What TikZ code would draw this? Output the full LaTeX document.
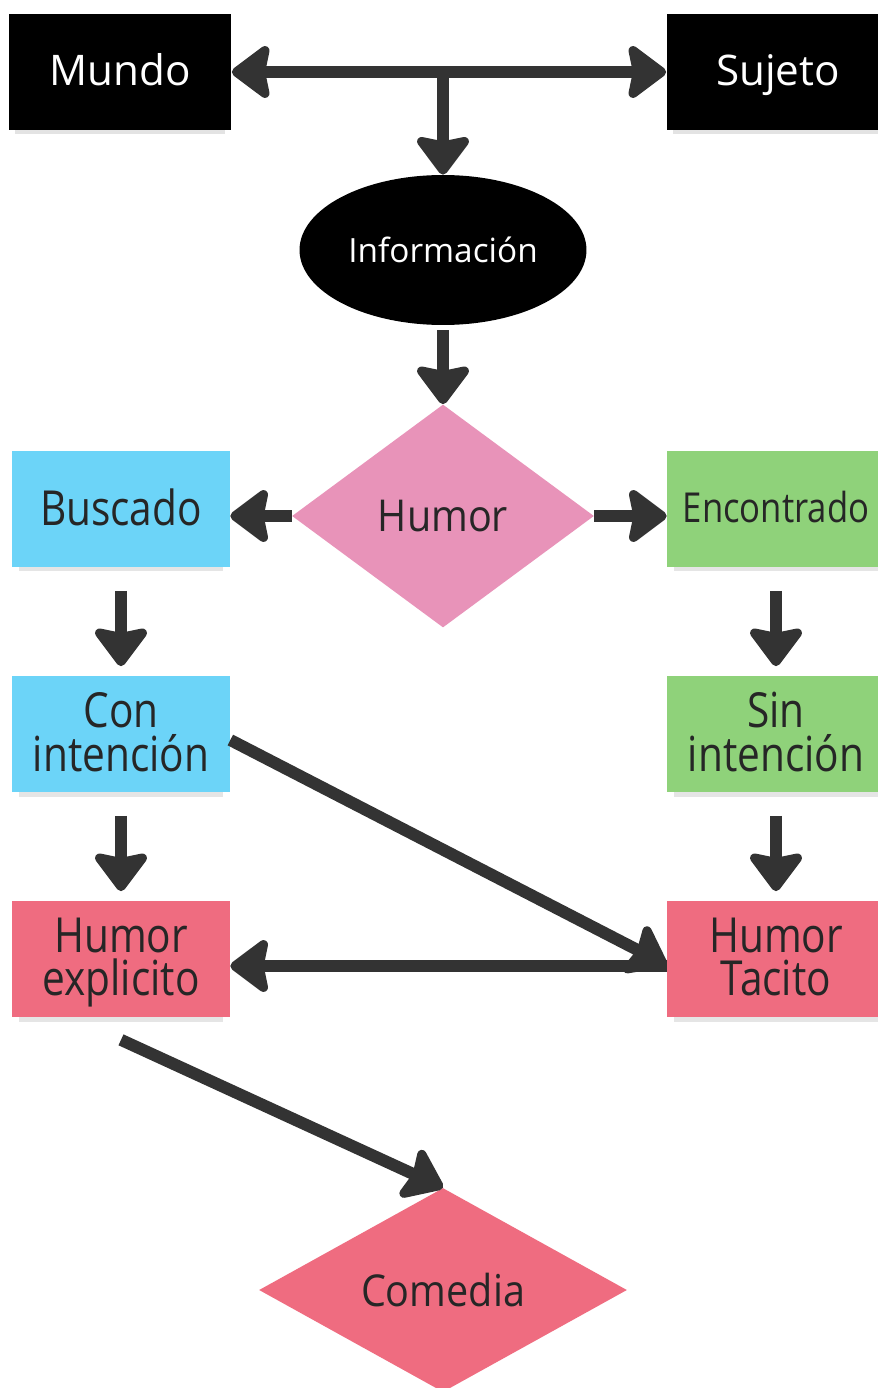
\documentclass[tikz,border=0pt]{standalone}
\usepackage{fontspec}
\setmainfont{Open Sans}
\newfontfamily\notefont{Open Sans}[FakeStretch=0.84]
\newfontfamily\choicefont{Open Sans}[FakeStretch=0.9]
\usetikzlibrary{shapes.geometric, arrows.meta, shadows, calc}

\definecolor{arrowgray}{HTML}{333333}
\definecolor{notecyan}{HTML}{6CD4F8}
\definecolor{notegreen}{HTML}{8FD27A}
\definecolor{notered}{HTML}{EF6C80}
\definecolor{humorpink}{HTML}{E893B9}

\begin{document}
\begin{tikzpicture}[
    x=0.02cm, y=-0.02cm,
    >={Stealth[length=0.85cm, width=1.25cm, inset=0.12cm, round]},
    flow/.style={
        ->,
        line width=0.24cm,
        draw=arrowgray
    },
    dark/.style={
        rectangle,
        fill=black,
        text=white,
        font=\fontsize{24}{27}\selectfont,
        text depth=0.25em,
        minimum width=4.46cm,
        minimum height=2.32cm,
        drop shadow={shadow xshift=0cm, shadow yshift=-0.16cm, shadow scale=0.94, opacity=0.22}
    },
    note/.style={
        rectangle,
        minimum width=4.36cm,
        minimum height=2.34cm,
        align=center,
        text=black!85,
        font=\notefont\fontsize{27.5}{25}\selectfont,
        text depth=0.26em,
        drop shadow={shadow xshift=0cm, shadow yshift=-0.16cm, shadow scale=0.94, opacity=0.2}
    },
    choice/.style={
        diamond,
        inner sep=0pt,
        text=black!85,
        font=\choicefont\fontsize{25}{28}\selectfont
    }
]

\fill[white] (0,0) rectangle (878,1388);
\useasboundingbox (0,0) rectangle (878,1388);

% Top: world, subject, information
\node[dark] (mundo) at (120,72) {Mundo};
\node[dark] (sujeto) at (778,72) {Sujeto};
\node[ellipse, fill=black, text=white, minimum width=5.74cm, minimum height=3.0cm,
    font=\fontsize{19}{22}\selectfont] (info) at (443,250) {Información};

\draw[flow, <->] (mundo) -- (sujeto);
\draw[flow] (info.north |- mundo.east) -- (info.north);

% Middle: humor and its two branches
\node[choice, fill=humorpink, minimum width=6.04cm, minimum height=4.46cm] (humor) at (443,516) {Humor};
\node[note, fill=notecyan] (buscado) at (121,509) {Buscado};
\node[note, fill=notegreen, font=\notefont\fontsize{23.5}{25}\selectfont] (encontrado) at (776,509) {Encontrado};
\node[note, fill=notecyan] (con) at (121,734) {Con\\intención};
\node[note, fill=notegreen] (sin) at (776,734) {Sin\\intención};

\draw[flow, shorten <=0.1cm] (info.south) -- (humor.north);
\draw[flow] (humor.west) -- (humor.west -| buscado.east);
\draw[flow] (humor.east) -- (humor.east -| encontrado.west);
\draw[flow, shorten <=0.46cm, shorten >=0.18cm] (buscado.south) -- (con.north);
\draw[flow, shorten <=0.46cm, shorten >=0.18cm] (encontrado.south) -- (sin.north);

% Bottom: kinds of humor and comedy
\node[note, fill=notered] (explicito) at (121,959) {Humor\\explicito};
\node[note, fill=notered] (tacito) at (776,959) {Humor\\Tacito};
\node[choice, fill=notered, minimum width=7.36cm, minimum height=4.08cm] (comedia) at (443,1290) {Comedia};
\coordinate (foot) at ($(explicito.south)+(0,22)$);

\draw[flow, shorten <=0.46cm, shorten >=0.18cm] (con.south) -- (explicito.north);
\draw[flow, shorten <=0.46cm, shorten >=0.18cm] (sin.south) -- (tacito.north);
\draw[flow] ($(con.east)+(0,6)$) -- ($(tacito.west)+(0,6)$);
\draw[flow] ($(tacito.west)+(0,7)$) -- ($(explicito.east)+(0,7)$);
\draw[flow] (foot) -- (comedia.north);

\end{tikzpicture}
\end{document}
